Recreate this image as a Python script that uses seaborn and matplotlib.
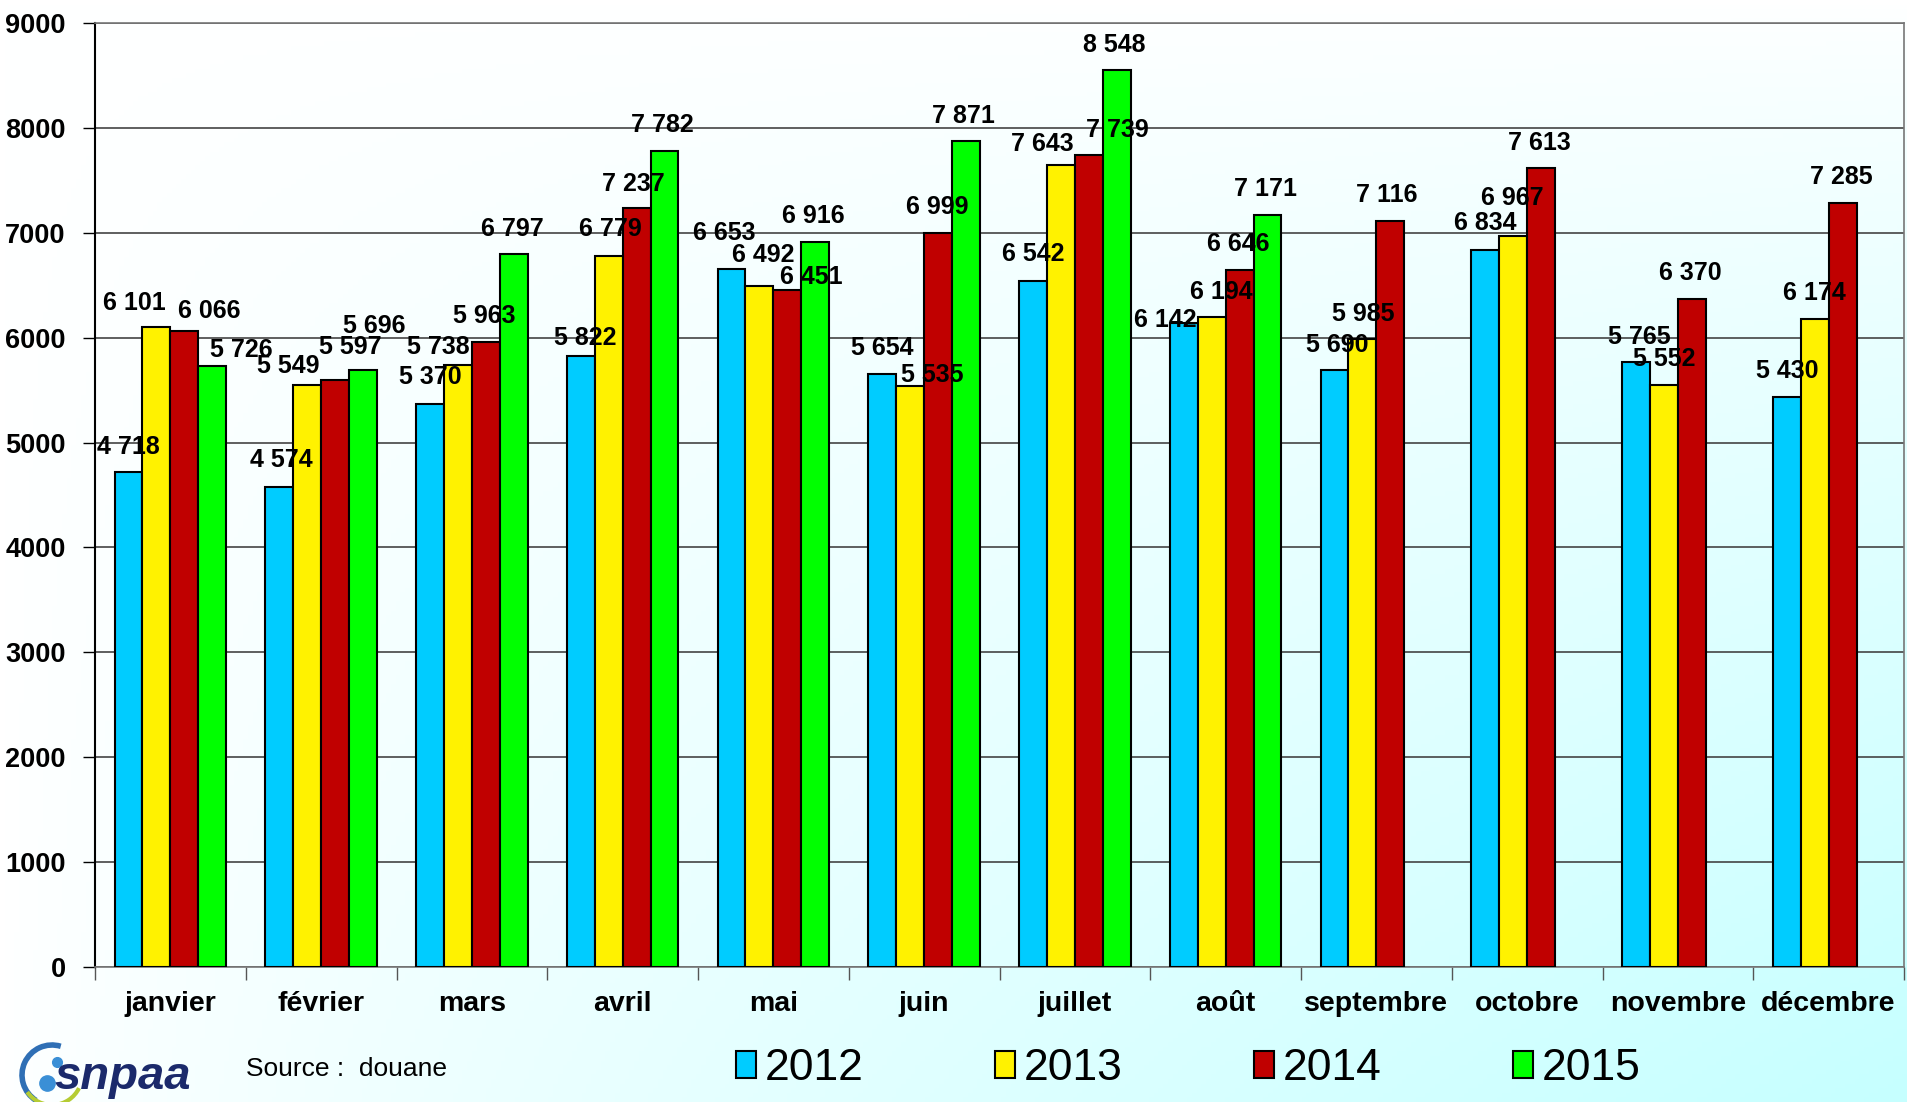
import seaborn as sns
import matplotlib.pyplot as plt
import matplotlib.patches as mpatches
import pandas as pd
import numpy as np

# Monthly values
months = ['janvier', 'février', 'mars', 'avril', 'mai', 'juin', 'juillet',
          'août', 'septembre', 'octobre', 'novembre', 'décembre']
years = ['2012', '2013', '2014', '2015']
v2012 = [4718, 4574, 5370, 5822, 6653, 5654, 6542, 6142, 5690, 6834, 5765, 5430]
v2013 = [6101, 5549, 5738, 6779, 6492, 5535, 7643, 6194, 5985, 6967, 5552, 6174]
v2014 = [6066, 5597, 5963, 7237, 6451, 6999, 7739, 6646, 7116, 7613, 6370, 7285]
v2015 = [5726, 5696, 6797, 7782, 6916, 7871, 8548, 7171, None, None, None, None]
colors = ['#00CCFF', '#FFF200', '#C00000', '#00FF00']

# Label offsets (dx, dy) relative to bar top centre, as placed in the original
off2012 = [(0, -21), (1.5, -22), (0.5, -22), (3.4, -15.4), (-6, -30), (0, -21),
           (0, -22), (-15, -2), (2, -21), (0, -22), (2.5, -21), (0, -22)]
off2013 = [(-18.5, -20), (-15.4, -15.5), (-16.5, -14.6), (1.5, -21.8), (3, -25.6), (18, -9.5),
           (-15, -17.6), (8, -21), (1, -21), (-1, -31.5), (0, -20.7), (0, -22)]
off2014 = [(20.5, -16), (12.6, -27), (-1.5, -21), (-2.5, -20), (20, -10.7), (-1, -21.4),
           (23.7, -21), (-1, -21.4), (-3, -21), (-1, -21), (-1, -21), (-1, -21)]
off2015 = [(23.6, -13.7), (9, -36), (-1.4, -21), (-1.4, -21), (-1.8, -21), (-2, -20.5),
           (-1.7, -20.8), (-2, -21)]

rows = []
for year, vals in zip(years, [v2012, v2013, v2014, v2015]):
    for m, v in zip(months, vals):
        if v is not None:
            rows.append({'mois': m, 'année': year, 'valeur': v})
df = pd.DataFrame(rows)

plt.rcParams['font.family'] = ['Liberation Sans', 'DejaVu Sans']

fig = plt.figure(figsize=(19.07, 11.02), dpi=100)

# Background gradient: white top-left -> light cyan bottom-right
bg = fig.add_axes([0, 0, 1, 1], zorder=-10)
gx, gy = np.meshgrid(np.linspace(0, 1, 400), np.linspace(0, 1, 240))
t = (gx * gy) ** 0.8
img = np.ones(gx.shape + (3,))
img[..., 0] = 1 - t * (1 - 0xC6 / 255)
bg.imshow(img, aspect='auto', extent=[0, 1, 0, 1])
bg.axis('off')

ax = fig.add_axes([95 / 1907, 135 / 1102, 1809 / 1907, 944 / 1102])
ax.set_facecolor('none')

sns.barplot(data=df, x='mois', y='valeur', hue='année', order=months,
            hue_order=years, palette=colors, saturation=1, width=0.74,
            edgecolor='black', linewidth=1.5, errorbar=None, legend=False,
            ax=ax, zorder=3)

k = 0.8757  # reference display px -> points
for cont, offs in zip(ax.containers, [off2012, off2013, off2014, off2015]):
    for bar, (dx, dy) in zip(cont, offs):
        h = bar.get_height()
        ax.annotate(f"{h:,.0f}".replace(",", " "),
                    xy=(bar.get_x() + bar.get_width() / 2, h),
                    xytext=(dx * k, -dy * k), textcoords='offset points',
                    ha='center', va='center', fontsize=18, fontweight='bold',
                    zorder=5)

ax.set_ylim(0, 9000)
ax.set_yticks(np.arange(0, 9001, 1000))
ax.set_xlim(-0.5, 11.5)
ax.set_xticks(np.arange(-0.5, 12, 1))
ax.set_xticklabels([])
ax.set_xticks(np.arange(12), minor=True)
ax.set_xticklabels(months, minor=True, fontsize=20.5, fontweight='bold')
ax.tick_params(axis='x', which='major', length=9, width=1, color='#555555', direction='out')
ax.tick_params(axis='x', which='minor', length=0, pad=17)
ax.tick_params(axis='y', length=9, width=1, pad=12, labelsize=19.5)
for lab in ax.get_yticklabels():
    lab.set_fontweight('bold')
ax.set_xlabel('')
ax.set_ylabel('')

ax.grid(axis='y', color='#444444', linewidth=1.2, zorder=0)
ax.set_axisbelow(True)
for side in ['top', 'right', 'bottom']:
    ax.spines[side].set_color('#777777')
    ax.spines[side].set_linewidth(1.2)
ax.spines['left'].set_color('black')
ax.spines['left'].set_linewidth(1.5)

# Legend
handles = [mpatches.Patch(facecolor=c, edgecolor='black', linewidth=1.5) for c in colors]
fig.legend(handles, years, loc='center left', bbox_to_anchor=(736 / 1907, 1 - 1069 / 1102),
           ncol=4, frameon=False, fontsize=32, handlelength=0.45, handleheight=0.55,
           handletextpad=0.2, columnspacing=2.95, borderpad=0, borderaxespad=0)

# Source text
fig.text(246 / 1907, 1 - 1069 / 1102, 'Source :  douane', fontsize=19,
         va='center', ha='left')

# Simple logo
fig.text(54 / 1907, 1 - 1077 / 1102, 'snpaa', fontsize=34, fontweight='bold',
         fontstyle='italic', color='#1B2A6B', va='center', ha='left')
centre = (52 / 1907, 1 - 1075 / 1102)
fig.patches.append(mpatches.Arc(centre, 60 / 1907, 60 / 1102, theta1=80, theta2=250,
                                color='#2F6FB5', linewidth=4, transform=fig.transFigure))
fig.patches.append(mpatches.Arc(centre, 60 / 1907, 60 / 1102, theta1=230, theta2=320,
                                color='#B5CC33', linewidth=3, transform=fig.transFigure))
for dx, dy, s in [(47, 1083, 11), (57, 1062, 7)]:
    fig.add_artist(plt.Line2D([dx / 1907], [1 - dy / 1102], marker='o', markersize=s,
                              color='#3A8FD6', transform=fig.transFigure))

plt.savefig('out.png', dpi=100)
plt.close()
